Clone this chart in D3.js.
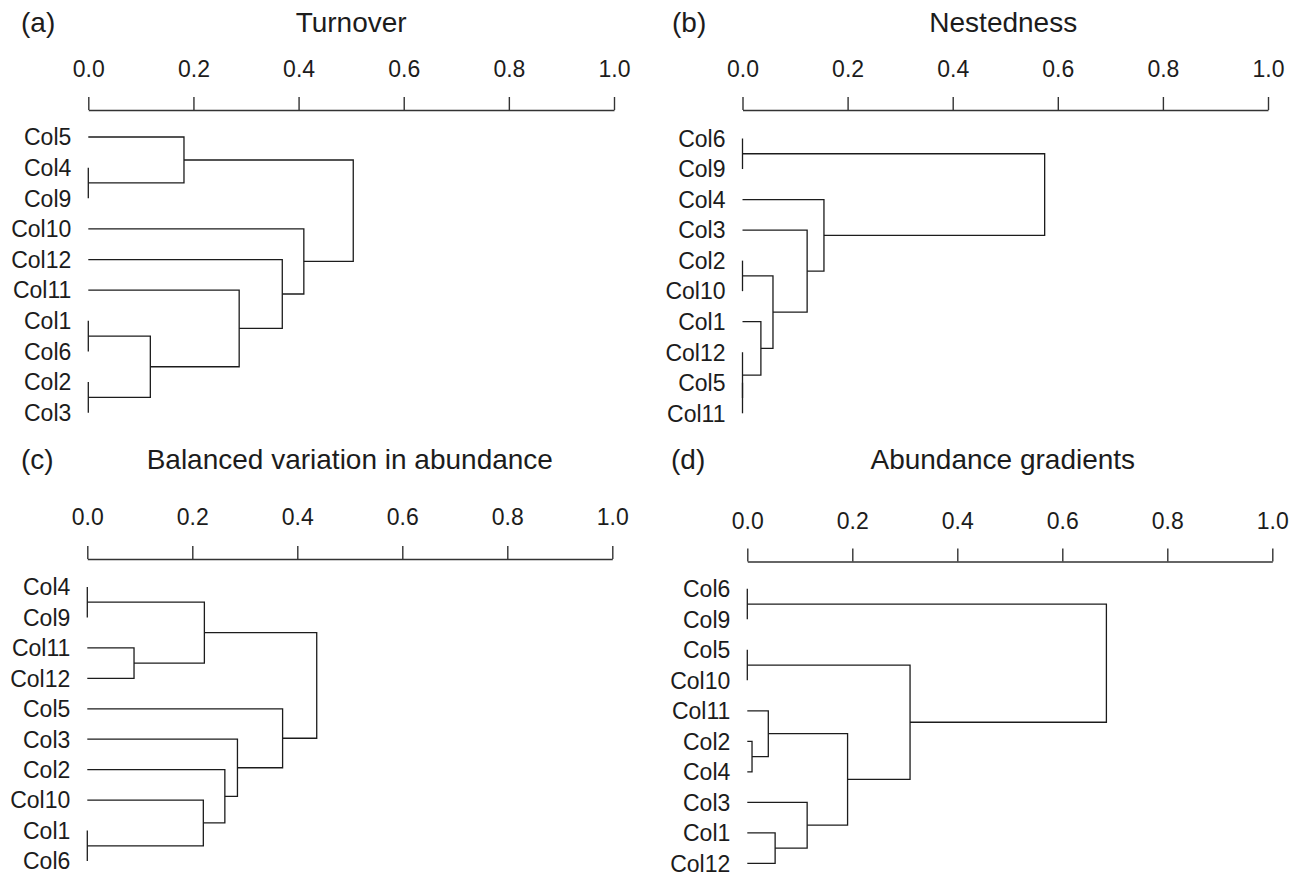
<!DOCTYPE html>
<html>
<head>
<meta charset="utf-8">
<script src="https://cdn.jsdelivr.net/npm/d3@7"></script>
<style>
  body { margin: 0; background: #fff; }
  svg { display: block; font-family: "Liberation Sans", Arial, sans-serif; }
</style>
</head>
<body>
<svg id="chart" width="1302" height="878"></svg>
<script>

// leaf order, merge steps (hclust style: -n = ColN, n = earlier step) and heights
var turnoverOrder = ["Col5","Col4","Col9","Col10","Col12","Col11","Col1","Col6","Col2","Col3"];
var turnoverMerge = [[-4,-9],[-1,-6],[-2,-3],[2,3],[-5,1],[-11,4],[-12,6],[-10,7],[5,8]];
var turnoverHeight = [0, 0, 0, 0.118, 0.182, 0.287, 0.369, 0.410, 0.504];

var nestedOrder = ["Col6","Col9","Col4","Col3","Col2","Col10","Col1","Col12","Col5","Col11"];
var nestedMerge = [[-6,-9],[-2,-10],[-5,-11],[-12,3],[-1,4],[2,5],[-3,6],[-4,7],[1,8]];
var nestedHeight = [0, 0, 0, 0, 0.035, 0.058, 0.123, 0.155, 0.575];

var balancedOrder = ["Col4","Col9","Col11","Col12","Col5","Col3","Col2","Col10","Col1","Col6"];
var balancedMerge = [[-4,-9],[-1,-6],[-11,-12],[-10,2],[1,3],[-2,4],[-3,6],[-5,7],[5,8]];
var balancedHeight = [0, 0, 0.089, 0.221, 0.223, 0.262, 0.286, 0.372, 0.437];

var gradientOrder = ["Col6","Col9","Col5","Col10","Col11","Col2","Col4","Col3","Col1","Col12"];
var gradientMerge = [[-6,-9],[-5,-10],[-2,-4],[-11,3],[-1,-12],[-3,5],[4,6],[2,7],[1,8]];
var gradientHeight = [0, 0, 0.009, 0.040, 0.053, 0.114, 0.191, 0.310, 0.684];

var tickValues = [0, 0.2, 0.4, 0.6, 0.8, 1.0];

var panels = [
    {tag: "(a)", title: "Turnover", order: turnoverOrder, merge: turnoverMerge, height: turnoverHeight,
     x0: 88.3, x1: 614, axisY: 110, top: 137, bottom: 412.7, titleY: 32, titleDx: 0, tagX: 21, pad: 20},
    {tag: "(b)", title: "Nestedness", order: nestedOrder, merge: nestedMerge, height: nestedHeight,
     x0: 742.5, x1: 1268, axisY: 110, top: 138.5, bottom: 413.3, titleY: 32, titleDx: -2, tagX: 672, pad: 20},
    {tag: "(c)", title: "Balanced variation in abundance", order: balancedOrder, merge: balancedMerge, height: balancedHeight,
     x0: 87.3, x1: 612.3, axisY: 559, top: 587, bottom: 861, titleY: 469, titleDx: 0, tagX: 21, pad: 21},
    {tag: "(d)", title: "Abundance gradients", order: gradientOrder, merge: gradientMerge, height: gradientHeight,
     x0: 747.3, x1: 1272.3, axisY: 561.5, top: 588.8, bottom: 863.3, titleY: 469, titleDx: -7, tagX: 671, pad: 20}
];

// turn merge matrix into nested object for d3.hierarchy
function buildTree(merge, height){
    var steps = [];
    merge.forEach(function(m, i){
        var kids = m.map(function(k){
            return k < 0 ? {name: "Col" + (-k), h: 0} : steps[k - 1];
        });
        steps.push({h: height[i], children: kids});
    });
    return steps[steps.length - 1];
}

var svg = d3.select("#chart");
var ink = "#1c1c1c";

function renderPanel(p){
    var g = svg.append("g");

    var x = d3.scaleLinear().domain([0, 1]).range([p.x0, p.x1]);
    var y = d3.scalePoint().domain(p.order).range([p.top, p.bottom]);

    // tag and title
    g.append("text")
        .attr("x", p.tagX).attr("y", p.titleY)
        .attr("font-size", 28).attr("fill", ink)
        .text(p.tag);
    g.append("text")
        .attr("x", (p.x0 + p.x1) / 2 + p.titleDx).attr("y", p.titleY)
        .attr("text-anchor", "middle")
        .attr("font-size", 28).attr("fill", ink)
        .text(p.title);

    // axis on top
    var axis = d3.axisTop(x)
        .tickValues(tickValues)
        .tickFormat(d3.format(".1f"))
        .tickSizeInner(13)
        .tickSizeOuter(0)
        .tickPadding(p.pad);
    var ax = g.append("g")
        .attr("transform", "translate(0," + p.axisY + ")")
        .call(axis);
    ax.selectAll("path, line").attr("stroke", "#333").attr("stroke-width", 1.4);
    ax.selectAll("text")
        .attr("font-size", 23)
        .attr("fill", ink)
        .attr("font-family", "Liberation Sans, Arial, sans-serif");

    // tree
    var root = d3.hierarchy(buildTree(p.merge, p.height));
    root.eachAfter(function(n){
        if (!n.children) {
            n.py = y(n.data.name);
        } else {
            n.py = d3.mean(n.children, function(c){ return c.py; });
        }
    });

    var inner = root.descendants().filter(function(n){ return n.children; });
    g.selectAll("path.link")
        .data(inner)
        .enter()
        .append("path")
        .attr("class", "link")
        .attr("fill", "none")
        .attr("stroke", ink)
        .attr("stroke-width", 1.3)
        .attr("d", function(n){
            var a = n.children[0], b = n.children[1];
            return "M" + x(a.data.h) + "," + a.py +
                   "H" + x(n.data.h) +
                   "V" + b.py +
                   "H" + x(b.data.h);
        });

    // leaf labels
    g.selectAll("text.leaf")
        .data(p.order)
        .enter()
        .append("text")
        .attr("class", "leaf")
        .attr("x", p.x0 - 17)
        .attr("y", function(d){ return y(d); })
        .attr("dy", "0.36em")
        .attr("text-anchor", "end")
        .attr("font-size", 23)
        .attr("fill", ink)
        .text(function(d){ return d; });
}

panels.forEach(renderPanel);

</script>
</body>
</html>
